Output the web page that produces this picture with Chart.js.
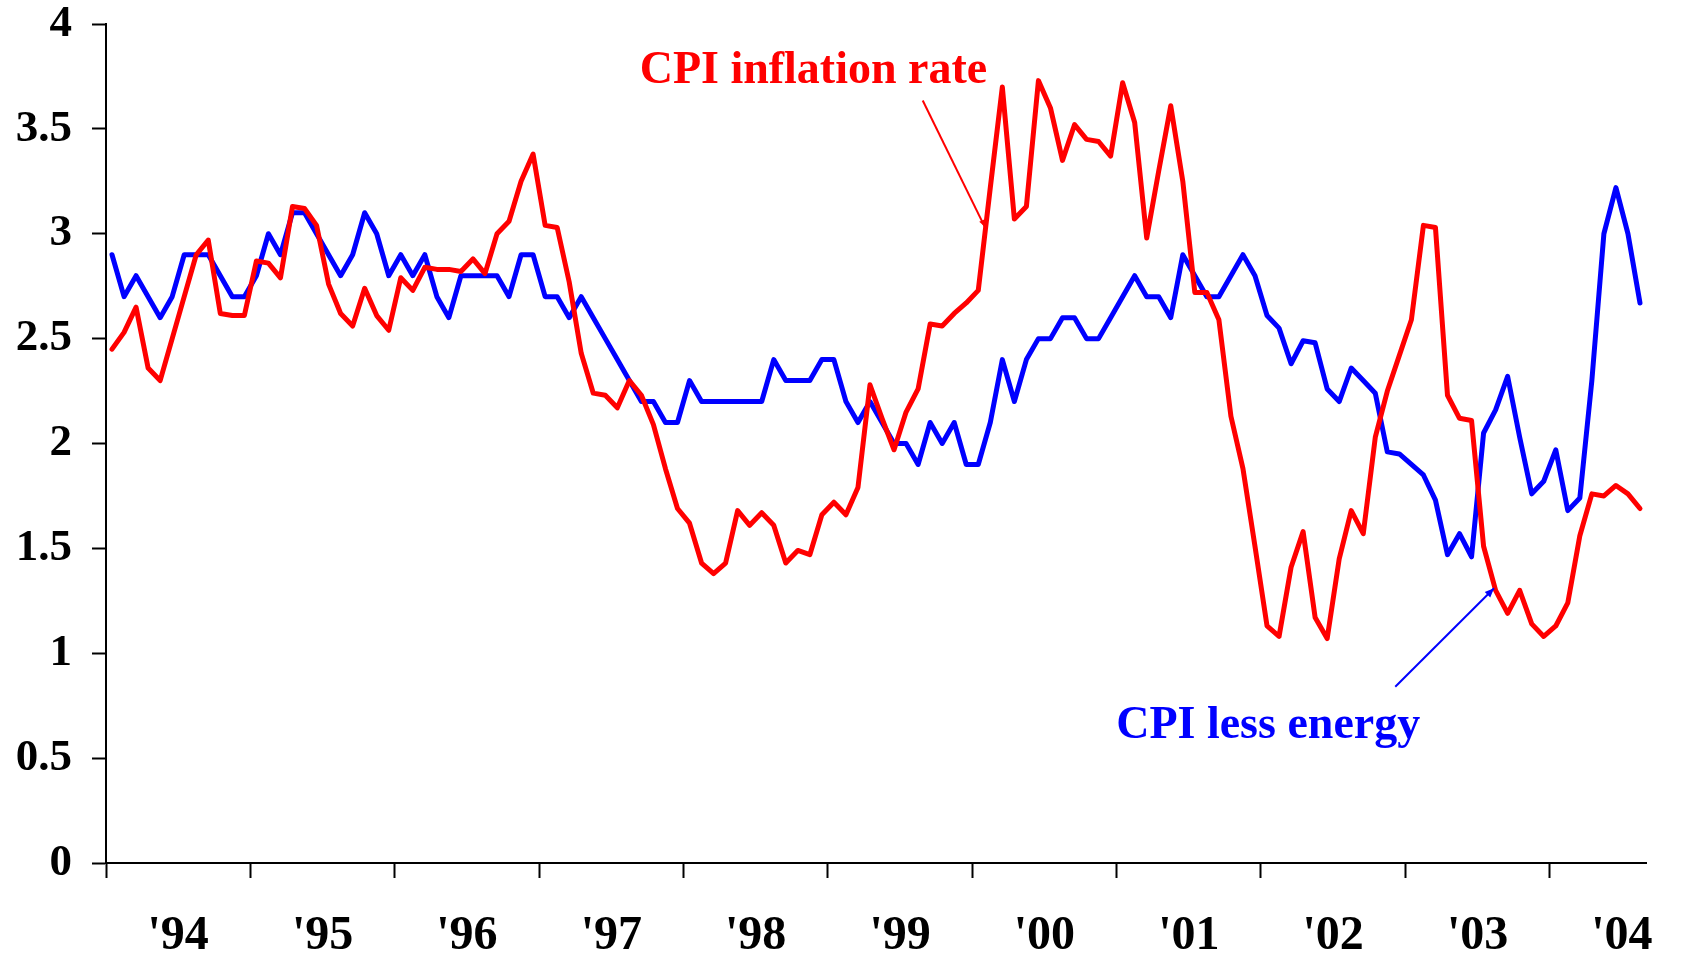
<!DOCTYPE html>
<html>
<head>
<meta charset="utf-8">
<script src="https://cdn.jsdelivr.net/npm/chart.js@4.4.1/dist/chart.umd.min.js"></script>
<style>
  html, body { margin: 0; padding: 0; background: #fff; }
</style>
</head>
<body>
<canvas id="cpiChart" width="1681" height="955"></canvas>
<script>
// monthly data, Jan 1994 - Aug 2004
var startYear = 1994;
var yearLabels = ["'94", "'95", "'96", "'97", "'98", "'99", "'00", "'01", "'02", "'03", "'04"];

var cpiInflation = [
  2.45, 2.53, 2.65, 2.36, 2.30, 2.50, 2.70, 2.90, 2.97, 2.62, 2.61, 2.61,
  2.87, 2.86, 2.79, 3.13, 3.12, 3.04, 2.76, 2.62, 2.56, 2.74, 2.61, 2.54,
  2.79, 2.73, 2.84, 2.83, 2.83, 2.82, 2.88, 2.81, 3.00, 3.06, 3.25, 3.38,
  3.04, 3.03, 2.77, 2.43, 2.24, 2.23, 2.17, 2.30, 2.23, 2.09, 1.88, 1.69,
  1.62, 1.43, 1.38, 1.43, 1.68, 1.61, 1.67, 1.61, 1.43, 1.49, 1.47, 1.66,
  1.72, 1.66, 1.79, 2.28, 2.12, 1.97, 2.15, 2.26, 2.57, 2.56, 2.62, 2.67,
  2.73, 3.22, 3.70, 3.07, 3.13, 3.73, 3.60, 3.35, 3.52, 3.45, 3.44, 3.37,
  3.72, 3.53, 2.98, 3.30, 3.61, 3.25, 2.72, 2.72, 2.59, 2.13, 1.88, 1.51,
  1.13, 1.08, 1.41, 1.58, 1.17, 1.07, 1.45, 1.68, 1.57, 2.03, 2.25, 2.42,
  2.59, 3.04, 3.03, 2.23, 2.12, 2.11, 1.51, 1.30, 1.19, 1.30, 1.14, 1.08,
  1.13, 1.24, 1.56, 1.76, 1.75, 1.80, 1.76, 1.69
];

var cpiLessEnergy = [
  2.9, 2.7, 2.8, 2.7, 2.6, 2.7, 2.9, 2.9, 2.9, 2.8, 2.7, 2.7,
  2.8, 3.0, 2.9, 3.1, 3.1, 3.0, 2.9, 2.8, 2.9, 3.1, 3.0, 2.8,
  2.9, 2.8, 2.9, 2.7, 2.6, 2.8, 2.8, 2.8, 2.8, 2.7, 2.9, 2.9,
  2.7, 2.7, 2.6, 2.7, 2.6, 2.5, 2.4, 2.3, 2.2, 2.2, 2.1, 2.1,
  2.3, 2.2, 2.2, 2.2, 2.2, 2.2, 2.2, 2.4, 2.3, 2.3, 2.3, 2.4,
  2.4, 2.2, 2.1, 2.2, 2.1, 2.0, 2.0, 1.9, 2.1, 2.0, 2.1, 1.9,
  1.9, 2.1, 2.4, 2.2, 2.4, 2.5, 2.5, 2.6, 2.6, 2.5, 2.5, 2.6,
  2.7, 2.8, 2.7, 2.7, 2.6, 2.9, 2.8, 2.7, 2.7, 2.8, 2.9, 2.8,
  2.61, 2.55, 2.38, 2.49, 2.48, 2.26, 2.20, 2.36, 2.30, 2.24, 1.96, 1.95,
  1.90, 1.85, 1.73, 1.47, 1.57, 1.46, 2.05, 2.16, 2.32, 2.03, 1.76, 1.82,
  1.97, 1.68, 1.74, 2.30, 3.00, 3.22, 3.00, 2.67
];

// points sit in the middle of their month
function toPoints(arr) {
  return arr.map(function (v, i) { return { x: startYear + (i + 0.5) / 12, y: v }; });
}

var serif = "'Liberation Serif', 'Times New Roman', serif";

// callout labels, positions in chart units
var notes = [
  { text: 'CPI inflation rate', color: '#ff0000', at: [1998.90, 3.72],
    from: [1999.657, 3.635], to: [2000.085, 3.035], head: 7 },
  { text: 'CPI less energy', color: '#0000ff', at: [2002.05, 0.595],
    from: [2002.93, 0.84], to: [2003.614, 1.31], head: 10 }
];

var notesPlugin = {
  id: 'notes',
  afterDatasetsDraw: function (chart) {
    var ctx = chart.ctx, sx = chart.scales.x, sy = chart.scales.y;
    ctx.save();
    notes.forEach(function (n) {
      ctx.fillStyle = n.color;
      ctx.strokeStyle = n.color;
      ctx.font = 'bold 46px ' + serif;
      ctx.textAlign = 'center';
      ctx.textBaseline = 'alphabetic';
      ctx.fillText(n.text, sx.getPixelForValue(n.at[0]), sy.getPixelForValue(n.at[1]));

      var x1 = sx.getPixelForValue(n.from[0]), y1 = sy.getPixelForValue(n.from[1]);
      var x2 = sx.getPixelForValue(n.to[0]), y2 = sy.getPixelForValue(n.to[1]);
      ctx.lineWidth = 2;
      ctx.beginPath();
      ctx.moveTo(x1, y1);
      ctx.lineTo(x2, y2);
      ctx.stroke();
      var a = Math.atan2(y2 - y1, x2 - x1), h = n.head;
      ctx.beginPath();
      ctx.moveTo(x2, y2);
      ctx.lineTo(x2 - h * Math.cos(a - 0.4), y2 - h * Math.sin(a - 0.4));
      ctx.lineTo(x2 - h * Math.cos(a + 0.4), y2 - h * Math.sin(a + 0.4));
      ctx.closePath();
      ctx.fill();
    });
    ctx.restore();
  }
};

new Chart(document.getElementById('cpiChart').getContext('2d'), {
  type: 'line',
  data: {
    datasets: [{
      label: 'CPI inflation rate',
      data: toPoints(cpiInflation),
      borderColor: '#ff0000',
      borderWidth: 5,
      pointRadius: 0,
      borderJoinStyle: 'round',
      borderCapStyle: 'round'
    }, {
      label: 'CPI less energy',
      data: toPoints(cpiLessEnergy),
      borderColor: '#0000ff',
      borderWidth: 5,
      pointRadius: 0,
      borderJoinStyle: 'round',
      borderCapStyle: 'round'
    }]
  },
  options: {
    responsive: false,
    animation: false,
    devicePixelRatio: 1,
    layout: { padding: { top: 24, right: 35, left: 0, bottom: 0 } },
    plugins: {
      legend: { display: false },
      tooltip: { enabled: false }
    },
    scales: {
      x: {
        type: 'linear',
        min: startYear,
        max: startYear + cpiInflation.length / 12,
        afterBuildTicks: function (scale) {
          var t = [];
          for (var k = 0; k < yearLabels.length; k++) {
            t.push({ value: startYear + k });
            t.push({ value: startYear + k + 0.5 });
          }
          scale.ticks = t;
        },
        afterFit: function (scale) {
          scale.height = 92;
          scale.paddingLeft = 0;
          scale.paddingRight = 0;
        },
        grid: {
          drawOnChartArea: false,
          tickLength: 15,
          tickWidth: 2,
          tickColor: function (c) {
            return (c.tick && Number.isInteger(c.tick.value)) ? '#000' : 'rgba(0,0,0,0)';
          }
        },
        border: { color: '#000', width: 2 },
        ticks: {
          autoSkip: false,
          maxRotation: 0,
          padding: 32,
          color: '#000',
          font: { family: serif, size: 48, weight: 'bold', lineHeight: 1.1 },
          callback: function (v) {
            return Number.isInteger(v) ? '' : yearLabels[Math.floor(v) - startYear];
          }
        }
      },
      y: {
        min: 0,
        max: 4,
        afterFit: function (scale) {
          scale.width = 106;
          scale.paddingTop = 0;
          scale.paddingBottom = 0;
        },
        grid: {
          drawOnChartArea: false,
          tickLength: 14,
          tickWidth: 2,
          tickColor: '#000'
        },
        border: { color: '#000', width: 2 },
        ticks: {
          stepSize: 0.5,
          padding: 20,
          color: '#000',
          font: { family: serif, size: 45, weight: 'bold', lineHeight: 1.05 },
          callback: function (v) { return String(Math.round(v * 10) / 10); }
        }
      }
    }
  },
  plugins: [notesPlugin]
});
</script>
</body>
</html>
